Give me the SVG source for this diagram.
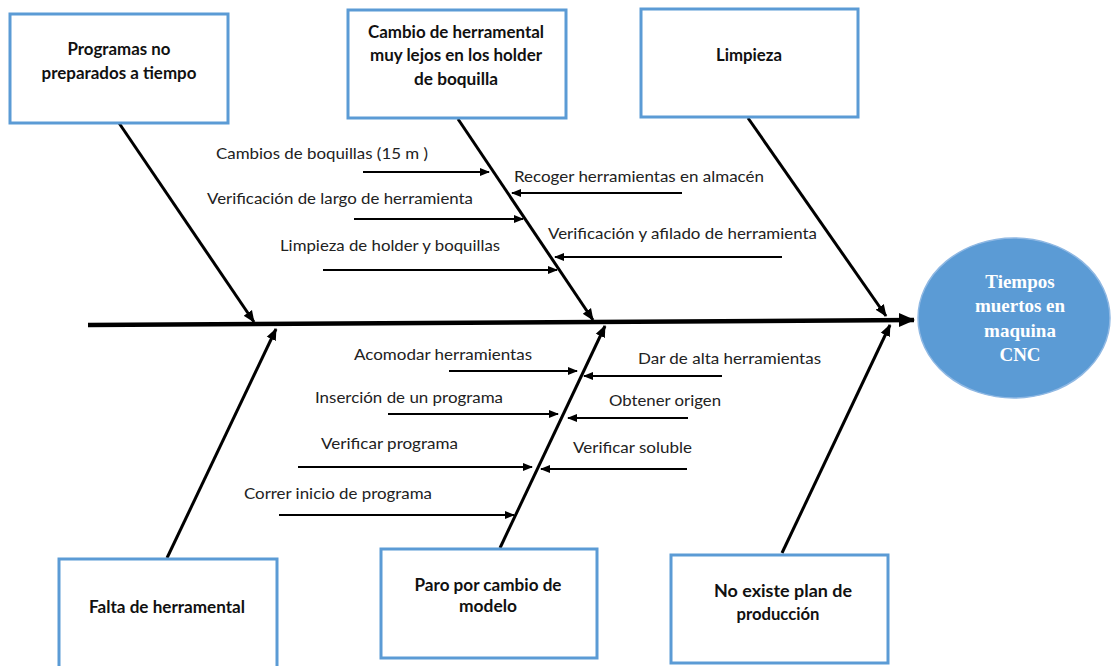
<svg xmlns="http://www.w3.org/2000/svg" width="1111" height="666" viewBox="0 0 1111 666">
<style>
.box{fill:#fff;stroke:#5b9bd5;stroke-width:3}
.bt{font-family:Lato,"Liberation Sans",sans-serif;font-weight:bold;font-size:16.5px;fill:#111;text-anchor:middle}
.lb{font-family:Lato,"Liberation Sans",sans-serif;font-size:16px;fill:#222}
.bone{stroke:#000;stroke-width:3;fill:none}
.sub{stroke:#000;stroke-width:2;fill:none}
.spine{stroke:#000;stroke-width:4.5;fill:none}
.et{font-family:"Liberation Serif","Times New Roman",serif;font-weight:bold;font-size:19px;fill:#fff;text-anchor:middle}
</style>
<defs>
<marker id="ab" markerUnits="userSpaceOnUse" markerWidth="12" markerHeight="12" viewBox="0 0 12 12" refX="11" refY="6" orient="auto"><path d="M0,1 L12,6 L0,11 Z" fill="#000"/></marker>
<marker id="as" markerUnits="userSpaceOnUse" markerWidth="10" markerHeight="10" viewBox="0 0 10 10" refX="9" refY="5" orient="auto"><path d="M0,1 L10,5 L0,9 Z" fill="#000"/></marker>
<marker id="asp" markerUnits="userSpaceOnUse" markerWidth="16" markerHeight="16" viewBox="0 0 16 16" refX="15" refY="8" orient="auto"><path d="M0,1 L16,8 L0,15 Z" fill="#000"/></marker>
</defs>

<g id="connectors">
<line class="spine" x1="88" y1="325" x2="914" y2="320" marker-end="url(#asp)"/>
<line class="bone" x1="119" y1="123" x2="254" y2="322" marker-end="url(#ab)"/>
<line class="bone" x1="458" y1="119" x2="593" y2="320" marker-end="url(#ab)"/>
<line class="bone" x1="748" y1="118" x2="886" y2="316" marker-end="url(#ab)"/>
<line class="bone" x1="167" y1="558" x2="276" y2="329" marker-end="url(#ab)"/>
<line class="bone" x1="500" y1="548" x2="605" y2="326" marker-end="url(#ab)"/>
<line class="bone" x1="782" y1="553" x2="890" y2="325" marker-end="url(#ab)"/>
<line class="sub" x1="363" y1="172" x2="489" y2="172" marker-end="url(#as)"/>
<line class="sub" x1="354" y1="219" x2="523" y2="219" marker-end="url(#as)"/>
<line class="sub" x1="323" y1="270" x2="557" y2="270" marker-end="url(#as)"/>
<line class="sub" x1="682" y1="193" x2="512" y2="193" marker-end="url(#as)"/>
<line class="sub" x1="782" y1="257" x2="555" y2="257" marker-end="url(#as)"/>
<line class="sub" x1="449" y1="371" x2="577" y2="371" marker-end="url(#as)"/>
<line class="sub" x1="388" y1="414" x2="558" y2="414" marker-end="url(#as)"/>
<line class="sub" x1="298" y1="467" x2="532" y2="467" marker-end="url(#as)"/>
<line class="sub" x1="279" y1="515" x2="514" y2="515" marker-end="url(#as)"/>
<line class="sub" x1="722" y1="376" x2="584" y2="376" marker-end="url(#as)"/>
<line class="sub" x1="688" y1="418" x2="568" y2="418" marker-end="url(#as)"/>
<line class="sub" x1="687" y1="469" x2="541" y2="469" marker-end="url(#as)"/>
</g>

<g id="labels">
<text class="lb" x="216" y="159" textLength="212" lengthAdjust="spacingAndGlyphs">Cambios de boquillas (15 m )</text>
<text class="lb" x="207" y="204" textLength="266" lengthAdjust="spacingAndGlyphs">Verificación de largo de herramienta</text>
<text class="lb" x="280" y="251" textLength="220" lengthAdjust="spacingAndGlyphs">Limpieza de holder y boquillas</text>
<text class="lb" x="514" y="182" textLength="250" lengthAdjust="spacingAndGlyphs">Recoger herramientas en almacén</text>
<text class="lb" x="548" y="239" textLength="269" lengthAdjust="spacingAndGlyphs">Verificación y afilado de herramienta</text>
<text class="lb" x="354" y="360" textLength="178" lengthAdjust="spacingAndGlyphs">Acomodar herramientas</text>
<text class="lb" x="315" y="403" textLength="188" lengthAdjust="spacingAndGlyphs">Inserción de un programa</text>
<text class="lb" x="321" y="449" textLength="137" lengthAdjust="spacingAndGlyphs">Verificar programa</text>
<text class="lb" x="244" y="499" textLength="188" lengthAdjust="spacingAndGlyphs">Correr inicio de programa</text>
<text class="lb" x="638" y="364" textLength="183" lengthAdjust="spacingAndGlyphs">Dar de alta herramientas</text>
<text class="lb" x="609" y="406" textLength="112" lengthAdjust="spacingAndGlyphs">Obtener origen</text>
<text class="lb" x="573" y="453" textLength="119" lengthAdjust="spacingAndGlyphs">Verificar soluble</text>
</g>

<g id="n1"><rect class="box" x="10" y="14" width="218" height="109"/>
<text class="bt" x="119" y="55" textLength="103" lengthAdjust="spacingAndGlyphs">Programas no</text><text class="bt" x="119" y="79" textLength="155" lengthAdjust="spacingAndGlyphs">preparados a tiempo</text></g>
<g id="n2"><rect class="box" x="348" y="10" width="218" height="108"/>
<text class="bt" x="456" y="38" textLength="176" lengthAdjust="spacingAndGlyphs">Cambio de herramental</text><text class="bt" x="456" y="61" textLength="172" lengthAdjust="spacingAndGlyphs">muy lejos en los holder</text><text class="bt" x="456" y="85" textLength="84" lengthAdjust="spacingAndGlyphs">de boquilla</text></g>
<g id="n3"><rect class="box" x="641" y="9" width="217" height="108"/>
<text class="bt" x="749" y="61" textLength="66" lengthAdjust="spacingAndGlyphs">Limpieza</text></g>
<g id="n4"><rect class="box" x="59" y="559" width="218" height="112"/>
<text class="bt" x="167" y="613" textLength="156" lengthAdjust="spacingAndGlyphs">Falta de herramental</text></g>
<g id="n5"><rect class="box" x="381" y="549" width="216" height="109"/>
<text class="bt" x="488" y="591" textLength="147" lengthAdjust="spacingAndGlyphs">Paro por cambio de</text><text class="bt" x="488" y="612" textLength="58" lengthAdjust="spacingAndGlyphs">modelo</text></g>
<g id="n6"><rect class="box" x="671" y="555" width="217" height="108"/>
<text class="bt" x="783" y="597" textLength="138" lengthAdjust="spacingAndGlyphs">No existe plan de</text><text class="bt" x="778" y="620" textLength="83" lengthAdjust="spacingAndGlyphs">producción</text></g>
<g id="effect"><ellipse cx="1014" cy="318" rx="96" ry="80" fill="#5b9bd5" stroke="#8fb8e3" stroke-width="1.5"/>
<text class="et" x="1020" y="288">Tiempos</text><text class="et" x="1020" y="312">muertos en</text><text class="et" x="1020" y="337">maquina</text><text class="et" x="1020" y="361">CNC</text></g>
</svg>
